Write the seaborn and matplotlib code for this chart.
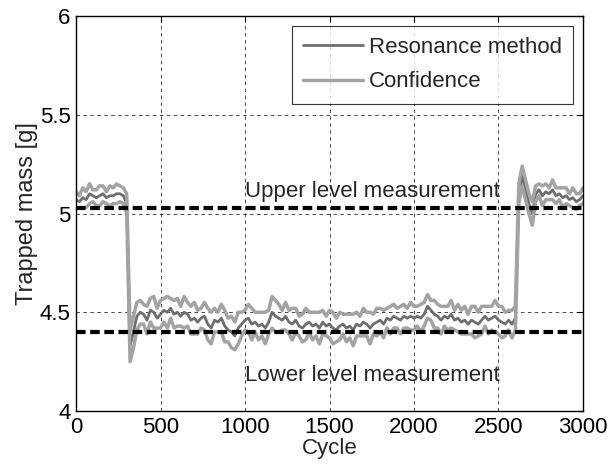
import numpy as np
import pandas as pd
import matplotlib
matplotlib.use("Agg")
import matplotlib.pyplot as plt
import seaborn as sns

sns.set_style("white")
plt.rcParams['font.family'] = ['Liberation Sans', 'DejaVu Sans']

# cycles, every 20
cycle = np.arange(0, 3001, 20)

# resonance method estimate [g]
resonance = [
    5.07, 5.06, 5.08, 5.07, 5.10, 5.09, 5.08, 5.09, 5.10, 5.08,
    5.09, 5.09, 5.10, 5.10, 5.09, 5.05, 4.33, 4.40, 4.48, 4.50,
    4.49, 4.46, 4.51, 4.50, 4.47, 4.49, 4.51, 4.50, 4.52, 4.49,
    4.50, 4.48, 4.50, 4.49, 4.46, 4.47, 4.45, 4.47, 4.48, 4.44,
    4.42, 4.46, 4.45, 4.47, 4.43, 4.41, 4.40, 4.38, 4.42, 4.44,
    4.46, 4.47, 4.44, 4.45, 4.43, 4.44, 4.42, 4.45, 4.50, 4.48,
    4.47, 4.46, 4.48, 4.45, 4.44, 4.46, 4.43, 4.42, 4.44, 4.45,
    4.43, 4.44, 4.42, 4.45, 4.43, 4.44, 4.42, 4.41, 4.43, 4.44,
    4.42, 4.43, 4.41, 4.44, 4.43, 4.45, 4.44, 4.42, 4.44, 4.45,
    4.46, 4.44, 4.47, 4.46, 4.48, 4.47, 4.46, 4.48, 4.47, 4.48,
    4.47, 4.48, 4.47, 4.49, 4.53, 4.51, 4.49, 4.48, 4.46, 4.48,
    4.47, 4.49, 4.46, 4.47, 4.45, 4.46, 4.44, 4.46, 4.45, 4.44,
    4.46, 4.48, 4.46, 4.47, 4.48, 4.46, 4.45, 4.44, 4.46, 4.44,
    4.47, 5.10, 5.19, 5.12, 5.05, 5.00, 5.10, 5.12, 5.09, 5.11,
    5.10, 5.12, 5.09, 5.10, 5.08, 5.09, 5.07, 5.08, 5.06, 5.07,
    5.09,
]

# confidence half width [g]
half_width = [
    0.04, 0.03, 0.05, 0.04, 0.05, 0.03, 0.04, 0.05, 0.04, 0.03,
    0.05, 0.04, 0.05, 0.04, 0.04, 0.05, 0.08, 0.08, 0.07, 0.06,
    0.05, 0.07, 0.06, 0.08, 0.05, 0.07, 0.06, 0.08, 0.05, 0.07,
    0.07, 0.05, 0.08, 0.06, 0.07, 0.08, 0.06, 0.05, 0.07, 0.08,
    0.08, 0.06, 0.05, 0.07, 0.08, 0.06, 0.08, 0.07, 0.08, 0.06,
    0.05, 0.07, 0.08, 0.05, 0.07, 0.06, 0.08, 0.06, 0.08, 0.08,
    0.07, 0.05, 0.07, 0.06, 0.08, 0.06, 0.05, 0.07, 0.08, 0.05,
    0.07, 0.06, 0.08, 0.06, 0.05, 0.07, 0.08, 0.06, 0.07, 0.05,
    0.07, 0.06, 0.08, 0.06, 0.05, 0.07, 0.06, 0.08, 0.05, 0.07,
    0.06, 0.07, 0.05, 0.07, 0.06, 0.05, 0.07, 0.06, 0.05, 0.07,
    0.06, 0.05, 0.07, 0.06, 0.06, 0.05, 0.07, 0.06, 0.07, 0.05,
    0.06, 0.07, 0.05, 0.07, 0.06, 0.07, 0.05, 0.07, 0.08, 0.06,
    0.07, 0.05, 0.07, 0.06, 0.08, 0.07, 0.08, 0.06, 0.05, 0.07,
    0.06, 0.05, 0.05, 0.05, 0.05, 0.06, 0.04, 0.03, 0.05, 0.04,
    0.03, 0.05, 0.04, 0.03, 0.05, 0.04, 0.03, 0.05, 0.04, 0.03,
    0.04,
]

upper_level = 5.03
lower_level = 4.40

df = pd.DataFrame({'cycle': cycle, 'res': resonance, 'hw': half_width})
df['upper'] = df['res'] + df['hw']
df['lower'] = df['res'] - df['hw']

fig = plt.figure(figsize=(6.08, 4.66), dpi=100)
ax = fig.add_axes([76/608, 1-411/466, (583-76)/608, (411-16)/466])

dark = '#6e6e6e'
light = '#a3a3a3'
sns.lineplot(data=df, x='cycle', y='res', ax=ax, color=dark, lw=2, label='Resonance method')
sns.lineplot(data=df, x='cycle', y='upper', ax=ax, color=light, lw=2.5, label='Confidence')
sns.lineplot(data=df, x='cycle', y='lower', ax=ax, color=light, lw=2.5)

for lvl in [upper_level, lower_level]:
    ax.axhline(lvl, color='black', lw=3, ls=(0, (2.3, 1.1)), zorder=5)

fs = 16
ax.text(1000, 5.11, 'Upper level measurement', fontsize=fs, va='center', ha='left')
ax.text(1000, 4.18, 'Lower level measurement', fontsize=fs, va='center', ha='left')

ax.set_xlim(0, 3000)
ax.set_ylim(4, 6)
ax.set_xticks(range(0, 3001, 500))
ax.set_yticks([4, 4.5, 5, 5.5, 6])
ax.set_yticklabels(['4', '4.5', '5', '5.5', '6'])
ax.grid(True, color='black', ls=(0, (5, 5)), lw=0.5)
ax.tick_params(direction='in', length=4, top=True, right=True, labelsize=fs, colors='black')
ax.tick_params(axis='x', pad=4)
ax.tick_params(axis='y', pad=4)
for s in ax.spines.values():
    s.set_color('black')
    s.set_linewidth(1)
ax.set_xlabel('Cycle', fontsize=fs, labelpad=0)
ax.set_ylabel('Trapped mass [g]', fontsize=17, labelpad=1)

leg = ax.legend(loc='upper right', fontsize=fs, handlelength=2.7, frameon=True, fancybox=False,
                borderpad=0.5, labelspacing=0.6, handletextpad=0.25, borderaxespad=0.45)
leg.get_frame().set_edgecolor('black')
leg.get_frame().set_linewidth(0.8)

fig.savefig('out.png', dpi=100)
